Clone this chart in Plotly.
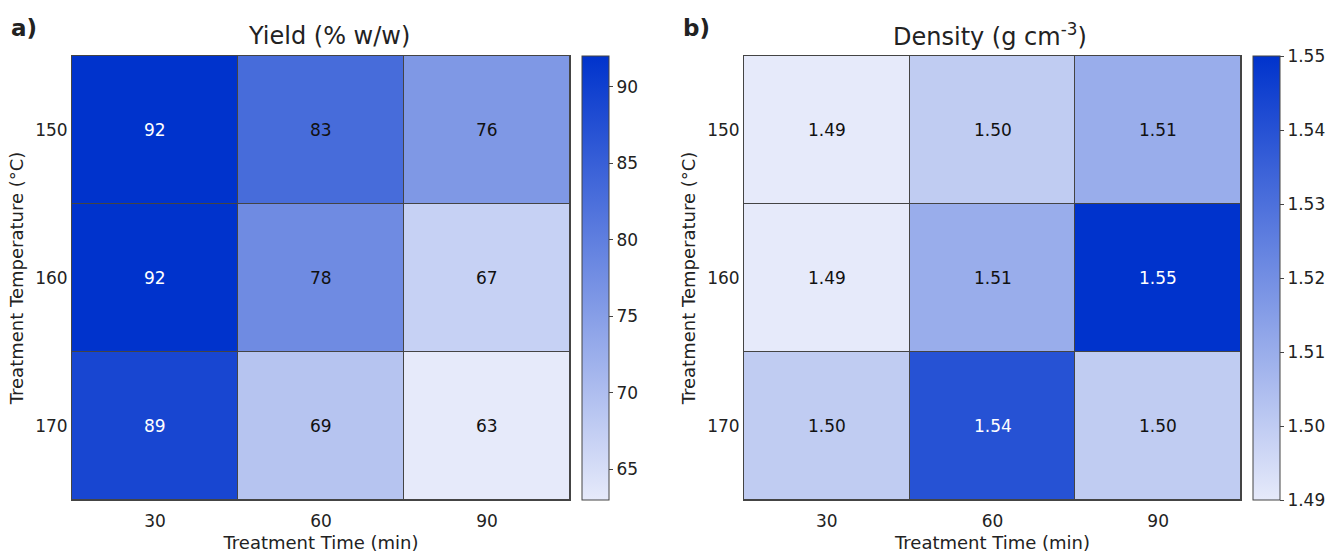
import plotly.graph_objects as go

times = ["30", "60", "90"]
temps = ["150", "160", "170"]
yield_vals = [[92, 83, 76],
              [92, 78, 67],
              [89, 69, 63]]
density_vals = [[1.49, 1.50, 1.51],
                [1.49, 1.51, 1.55],
                [1.50, 1.54, 1.50]]
yield_ticks = [65, 70, 75, 80, 85, 90]
density_ticks = [1.49, 1.50, 1.51, 1.52, 1.53, 1.54, 1.55]

W, H = 1328, 553
FONT = "DejaVu Sans"
scale = [[0, "#e6eafa"], [1, "#0033cc"]]

def px(x):
    return x / W

def py(y):
    return (H - y) / H

top, bot = 56, 500
xi = list(range(len(times)))
yi = list(range(len(temps)))
fig = go.Figure()

panels = [
    (yield_vals, 63, 92, yield_ticks, "{:.0f}", 582, "x", "y", 88),
    (density_vals, 1.49, 1.55, density_ticks, "{:.2f}", 1253, "x2", "y2", 1.535),
]
for vals, zmin, zmax, ticks, fmt, cbx, xa, ya, thr in panels:
    fig.add_trace(go.Heatmap(
        z=vals, x=xi, y=yi, zmin=zmin, zmax=zmax, colorscale=scale,
        xgap=1, ygap=1, xaxis=xa, yaxis=ya, hoverinfo="skip",
        colorbar=dict(x=px(cbx), xanchor="left", y=py(bot), yanchor="bottom",
                      len=(bot - top) / H, lenmode="fraction", thickness=27,
                      thicknessmode="pixels", outlinewidth=1, outlinecolor="#444",
                      xpad=0, ypad=0,
                      ticks="outside", ticklen=4, tickcolor="#444",
                      tickvals=ticks, ticktext=[fmt.format(t) for t in ticks],
                      tickfont=dict(family=FONT, size=17, color="#222")),
    ))
    for i in yi:
        for j in xi:
            v = vals[i][j]
            fig.add_annotation(x=j, y=i, xref=xa, yref=ya, text=fmt.format(v),
                               showarrow=False,
                               font=dict(family=FONT, size=17,
                                         color="white" if v >= thr else "#111"))

axis_common = dict(showgrid=False, zeroline=False, showline=True, automargin=False,
                   linecolor="#444", linewidth=1, mirror=True, ticks="",
                   tickfont=dict(family=FONT, size=17, color="#222"))

xcommon = dict(tickvals=xi, ticktext=times, range=[-0.5, 2.5], ticklabelstandoff=6,
               title=dict(text="Treatment Time (min)", font=dict(size=18), standoff=5))
ycommon = dict(tickvals=yi, ticktext=temps, range=[2.5, -0.5],
               title=dict(text="Treatment Temperature (°C)", font=dict(size=18), standoff=6))

fig.update_layout(
    width=W, height=H, margin=dict(l=0, r=0, t=0, b=0),
    paper_bgcolor="white", plot_bgcolor="#444",
    font=dict(family=FONT, color="#222"),
    xaxis=dict(domain=[px(72), px(570)], anchor="y", **xcommon, **axis_common),
    yaxis=dict(domain=[py(bot), py(top)], anchor="x", **ycommon, **axis_common),
    xaxis2=dict(domain=[px(744), px(1241)], anchor="y2", **xcommon, **axis_common),
    yaxis2=dict(domain=[py(bot), py(top)], anchor="x2", **ycommon, **axis_common),
)

for text, x, y, xa, bold in [("Yield (% w/w)", 329, 36, "center", False),
                             ("Density (g cm<sup>-3</sup>)", 990, 35, "center", False),
                             ("<b>a)</b>", 9, 28, "left", True),
                             ("<b>b)</b>", 681, 28, "left", True)]:
    fig.add_annotation(x=px(x), y=py(y), xref="paper", yref="paper", showarrow=False,
                       xanchor=xa, yanchor="middle", text=text,
                       font=dict(family=FONT, size=23 if bold else 24, color="#222"))

fig.write_html("out.html", config={"displayModeBar": False},
               post_script="document.body.style.margin='0';document.body.style.overflow='hidden';")
